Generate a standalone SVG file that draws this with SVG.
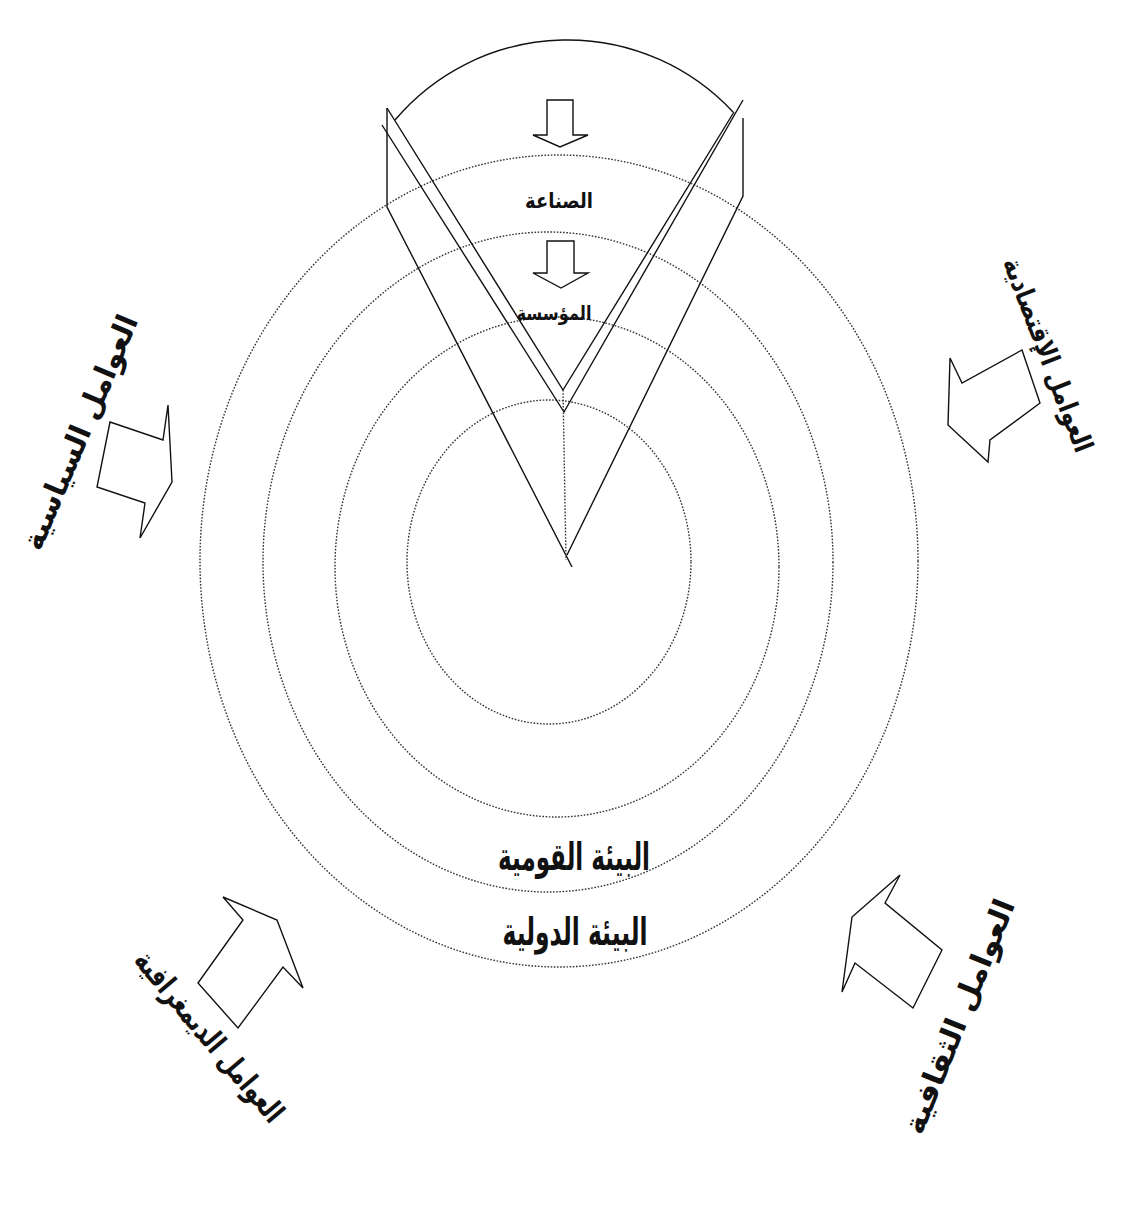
<svg xmlns="http://www.w3.org/2000/svg" width="1125" height="1215" viewBox="0 0 1125 1215">
<style>
.bg{fill:#fff}
.ring{fill:none;stroke:#333;stroke-width:1.4;stroke-dasharray:1.6 1.6}
.ln{fill:none;stroke:#111;stroke-width:1.4;stroke-linejoin:miter}
.arrow{fill:#fff;stroke:#111;stroke-width:1.4;stroke-linejoin:miter}
.lbl{font-family:'DejaVu Sans',sans-serif;font-weight:bold;fill:#111}
</style>
<rect class="bg" x="0" y="0" width="1125" height="1215"/>
<g id="rings">
  <ellipse id="ring-outer" class="ring" cx="559" cy="561" rx="359" ry="406"/>
  <ellipse id="ring-3" class="ring" cx="548" cy="562" rx="285" ry="330"/>
  <ellipse id="ring-2" class="ring" cx="557" cy="567" rx="222" ry="250"/>
  <ellipse id="ring-inner" class="ring" cx="549" cy="562" rx="142" ry="162"/>
</g>
<g id="sector">
  <path class="ln" d="M395,120 A226,226 0 0 1 733,112"/>
  <path class="ln" d="M387,108 L387,207 L572,567"/>
  <path class="ln" d="M743,118 L743,196 L567,555"/>
  <path class="ln" d="M387,108 L563,390 L734,112"/>
  <path class="ln" d="M382,125 L564,412 L743,100"/>
  <line class="ring" x1="563" y1="390" x2="566" y2="560"/>
</g>
<g id="down-arrow-1">
  <polygon class="arrow" points="547,100 573,100 573,135 588,135 560,147 533,135 547,135"/>
</g>
<g id="down-arrow-2">
  <polygon class="arrow" points="547,241 574,241 574,273 588,273 561,288 533,273 547,273"/>
</g>
<g id="label-industry">
  <text class="lbl" x="559" y="208" font-size="21" text-anchor="middle" textLength="68" lengthAdjust="spacingAndGlyphs">الصناعة</text>
</g>
<g id="label-firm">
  <text class="lbl" x="554" y="320" font-size="20" text-anchor="middle" textLength="75" lengthAdjust="spacingAndGlyphs">المؤسسة</text>
</g>
<g id="label-national">
  <text class="lbl" x="574" y="870" font-size="38" text-anchor="middle" textLength="152" lengthAdjust="spacingAndGlyphs">البيئة القومية</text>
</g>
<g id="label-international">
  <text class="lbl" x="575" y="945" font-size="38" text-anchor="middle" textLength="145" lengthAdjust="spacingAndGlyphs">البيئة الدولية</text>
</g>
<g id="political">
  <polygon class="arrow" points="110,422 163,440 168,405 172,482 140,538 145,503 97,487"/>
  <text class="lbl" transform="translate(84,434) rotate(-67)" x="0" y="6" font-size="30" text-anchor="middle" textLength="252" lengthAdjust="spacingAndGlyphs">العوامل السياسية</text>
</g>
<g id="economic">
  <polygon class="arrow" points="1022,350 1040,403 990,440 988,462 948,425 950,358 962,383"/>
  <text class="lbl" transform="translate(1045,356) rotate(69)" x="0" y="6" font-size="27" text-anchor="middle" textLength="206" lengthAdjust="spacingAndGlyphs">العوامل الإقتصادية</text>
</g>
<g id="demographic">
  <polygon class="arrow" points="223,897 277,920 303,988 283,967 238,1028 198,983 243,920"/>
  <text class="lbl" transform="translate(206,1039) rotate(50)" x="0" y="6" font-size="30" text-anchor="middle" textLength="214" lengthAdjust="spacingAndGlyphs">العوامل الديمغرافية</text>
</g>
<g id="cultural">
  <polygon class="arrow" points="900,875 885,903 942,950 913,1008 855,963 842,992 852,917"/>
  <text class="lbl" transform="translate(963,1018) rotate(-68)" x="0" y="6" font-size="30" text-anchor="middle" textLength="250" lengthAdjust="spacingAndGlyphs">العوامل الثقافية</text>
</g>
</svg>
